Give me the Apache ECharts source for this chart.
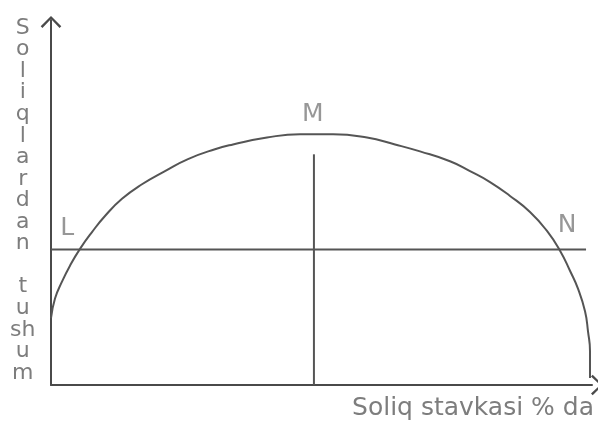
<!DOCTYPE html>
<html>
<head>
<meta charset="utf-8">
<script src="https://cdn.jsdelivr.net/npm/echarts@6/dist/echarts.min.js"></script>
<style>html,body{margin:0;padding:0;background:#fff}#c{width:598px;height:421px}</style>
</head>
<body>
<div id="c"></div>
<script>
// Laffer curve: tax rate (%) vs tax revenue
const curveX = [0, 0.74, 2.03, 3.51, 5.36, 7.58, 9.98, 13.12, 16.82, 21.07, 25.32, 30.31, 33.64, 39.93, 46.03, 52.13, 58.41, 63.59, 68.21, 73.75, 77.45, 81.15, 84.84, 88.54, 91.68, 94.09, 95.93, 97.41, 98.71, 99.26, 99.63, 99.63, 99.63];
const curveY = [18.3, 23.7, 28.3, 32.7, 37.3, 41.9, 46.3, 51.0, 55.0, 58.6, 61.9, 64.6, 65.9, 67.8, 68.7, 68.7, 67.8, 65.9, 64.0, 61.3, 58.6, 55.6, 51.8, 47.4, 42.2, 36.8, 31.3, 26.4, 20.2, 14.7, 9.3, 3.8, 1.9];
const levelLineX = [0, 98.9];
const levelLineY = [37.1, 37.1];
const peakLineX = [48.6, 48.6];
const peakLineY = [0, 63.2];
const pointNames = ['L', 'M', 'N'];
const pointX = [3.0, 48.4, 95.4];
const pointY = [43.0, 74.1, 43.6];
const xAxisName = 'Soliq stavkasi % da';
const yAxisLetters = ['S','o','l','i','q','l','a','r','d','a','n','','t','u','sh','u','m'];

const zip = (xs, ys) => xs.map((x, i) => [x, ys[i]]);
const lineColor = '#555555';
const textColor = '#7d7d7d';
const font = 'DejaVu Sans';
const chevron = 'path://M0,12 L12,0 L24,12 L22,14 L12,3.5 L2,14 Z';

const chart = echarts.init(document.getElementById('c'), null, {renderer: 'canvas'});
chart.setOption({
  animation: false,
  backgroundColor: '#ffffff',
  grid: {left: 51, right: 6, top: 20, bottom: 34, containLabel: false},
  xAxis: {
    type: 'value', min: 0, max: 100,
    name: xAxisName, nameLocation: 'end', nameGap: 0,
    nameTextStyle: {fontFamily: font, fontSize: 25, color: textColor, align: 'right', verticalAlign: 'top', padding: [11, -2, 0, 0]},
    axisLine: {show: true, symbol: ['none', chevron], symbolSize: [22, 12], symbolOffset: [0, 5], lineStyle: {color: '#4a4a4a', width: 2}},
    axisTick: {show: false}, axisLabel: {show: false}, splitLine: {show: false}
  },
  yAxis: {
    type: 'value', min: 0, max: 100,
    axisLine: {show: true, symbol: ['none', chevron], symbolSize: [26, 12], symbolOffset: [0, -2], lineStyle: {color: '#4a4a4a', width: 2}},
    axisTick: {show: false}, axisLabel: {show: false}, splitLine: {show: false}
  },
  graphic: [{
    type: 'text', left: 10, top: 17,
    style: {
      text: yAxisLetters.join('\n'),
      font: '22px "' + font + '"',
      fill: textColor, textAlign: 'center', lineHeight: 21.56
    }
  }],
  series: [
    {type: 'line', data: zip(curveX, curveY), smooth: 0.5, showSymbol: false, lineStyle: {color: lineColor, width: 2}},
    {type: 'line', data: zip(levelLineX, levelLineY), showSymbol: false, lineStyle: {color: lineColor, width: 2}},
    {type: 'line', data: zip(peakLineX, peakLineY), showSymbol: false, lineStyle: {color: lineColor, width: 2}},
    {type: 'scatter', symbolSize: 0,
      data: pointNames.map((n, i) => ({name: n, value: [pointX[i], pointY[i]]})),
      label: {show: true, position: 'inside', formatter: p => p.name, fontFamily: font, fontSize: 25, color: textColor}}
  ]
});
</script>
</body>
</html>
